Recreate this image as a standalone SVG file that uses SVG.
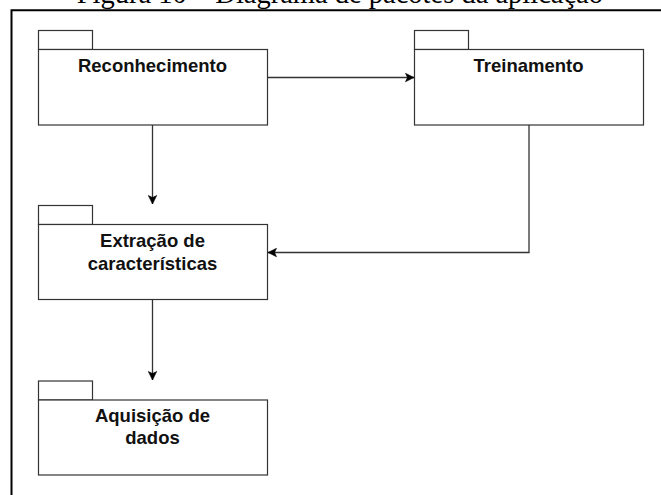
<svg xmlns="http://www.w3.org/2000/svg" width="661" height="495" viewBox="0 0 661 495">
<style>
.box{fill:#fff;stroke:#333;stroke-width:1.2}
.lbl{font-family:"Liberation Sans",Arial,sans-serif;font-weight:bold;font-size:18.5px;fill:#111;text-anchor:middle}
.conn{fill:none;stroke:#333;stroke-width:1.3}
.cap{font-family:"Liberation Serif","Times New Roman",serif;font-size:28.5px;fill:#000;text-anchor:end}
</style>
<defs>
<marker id="arr" markerUnits="userSpaceOnUse" markerWidth="10" markerHeight="10" viewBox="0 0 10 10" refX="9" refY="5" orient="auto">
<path d="M0.5,0.8 L9,5 L0.5,9.2 L2.5,5 z" fill="#000" stroke="#000" stroke-width="0.6"/>
</marker>
</defs>
<text class="cap" x="603" y="2.5">Figura 10 – Diagrama de pacotes da aplicação</text>
<path d="M11.5,495 V10.2 H661" fill="none" stroke="#000" stroke-width="2"/>
<g id="reconhecimento">
<rect class="box" x="38.5" y="30.5" width="54" height="19"/>
<rect class="box" x="38.5" y="49.5" width="229" height="75.5"/>
<text class="lbl" x="152.5" y="71.5">Reconhecimento</text>
</g>
<g id="treinamento">
<rect class="box" x="414.5" y="30.5" width="54" height="19"/>
<rect class="box" x="414.5" y="49.5" width="229" height="75.5"/>
<text class="lbl" x="528.5" y="71.5">Treinamento</text>
</g>
<g id="extracao">
<rect class="box" x="38.5" y="205.5" width="54" height="19"/>
<rect class="box" x="38.5" y="224.5" width="229" height="75"/>
<text class="lbl" x="152.5" y="246.5">Extração de</text>
<text class="lbl" x="152.5" y="269.5">características</text>
</g>
<g id="aquisicao">
<rect class="box" x="38.5" y="381" width="54" height="19"/>
<rect class="box" x="38.5" y="400" width="229" height="75"/>
<text class="lbl" x="152.5" y="421.5">Aquisição de</text>
<text class="lbl" x="152.5" y="444">dados</text>
</g>
<g id="connectors">
<path class="conn" d="M267.5,77.5 H414" marker-end="url(#arr)"/>
<path class="conn" d="M152.5,125 V204" marker-end="url(#arr)"/>
<path class="conn" d="M529,125 V252.5 H268" marker-end="url(#arr)"/>
<path class="conn" d="M152.5,299.5 V380" marker-end="url(#arr)"/>
</g>
</svg>
